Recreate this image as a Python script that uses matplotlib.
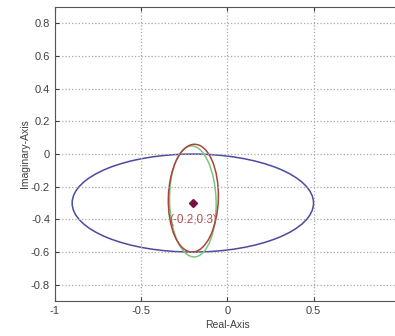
import matplotlib
matplotlib.use('Agg')
import matplotlib.pyplot as plt
from matplotlib.patches import Ellipse

plt.rcParams['font.family'] = ['Liberation Sans', 'DejaVu Sans']

# Ellipse outlines: centre, full width, full height, tilt (deg)
blue_ellipse = dict(center=(-0.2, -0.3), width=1.4, height=0.6, angle=0)
red_ellipse = dict(center=(-0.197, -0.27), width=0.29, height=0.66, angle=-1.5)
green_ellipse = dict(center=(-0.20, -0.29), width=0.27, height=0.68, angle=1.5)

# Centre point and its label
point_x = [-0.2]
point_y = [-0.3]
point_label = '(-0.2,0.3)'

x_ticks = [-1, -0.5, 0, 0.5]
x_tick_labels = ['-1', '-0.5', '0', '0.5']
y_ticks = [-0.8, -0.6, -0.4, -0.2, 0, 0.2, 0.4, 0.6, 0.8]
y_tick_labels = ['-0.8', '-0.6', '-0.4', '-0.2', '0', '0.2', '0.4', '0.6', '0.8']

fig = plt.figure(figsize=(3.95, 3.36), dpi=100)
ax = fig.add_axes([0.139, 0.104, 0.873, 0.875])

for params, color in [(blue_ellipse, '#4a4aa0'),
                      (green_ellipse, '#7cc878'),
                      (red_ellipse, '#a8443c')]:
    ax.add_patch(Ellipse(params['center'], params['width'], params['height'],
                         angle=params['angle'], fill=False, edgecolor=color, lw=1.1))

ax.plot(point_x, point_y, marker='D', color='#7a1040', markersize=4, linestyle='none')
ax.text(point_x[0], point_y[0] - 0.105, point_label, color='#b85050',
        fontsize=8.5, ha='center', va='center')

ax.set_xlim(-1, 1)
ax.set_ylim(-0.9, 0.9)
ax.set_xticks(x_ticks)
ax.set_xticklabels(x_tick_labels)
ax.set_yticks(y_ticks)
ax.set_yticklabels(y_tick_labels)
ax.tick_params(direction='in', top=True, right=True, labelsize=8,
               colors='#404040', length=3)
ax.grid(True, linestyle=':', color='#a8a8a8', linewidth=0.9)
for spine in ax.spines.values():
    spine.set_color('#555555')

ax.set_xlabel('Real-Axis', fontsize=7.5, color='#404040', labelpad=3)
ax.set_ylabel('Imaginary-Axis', fontsize=7.5, color='#404040', labelpad=1)

fig.savefig('out.png', dpi=100)
